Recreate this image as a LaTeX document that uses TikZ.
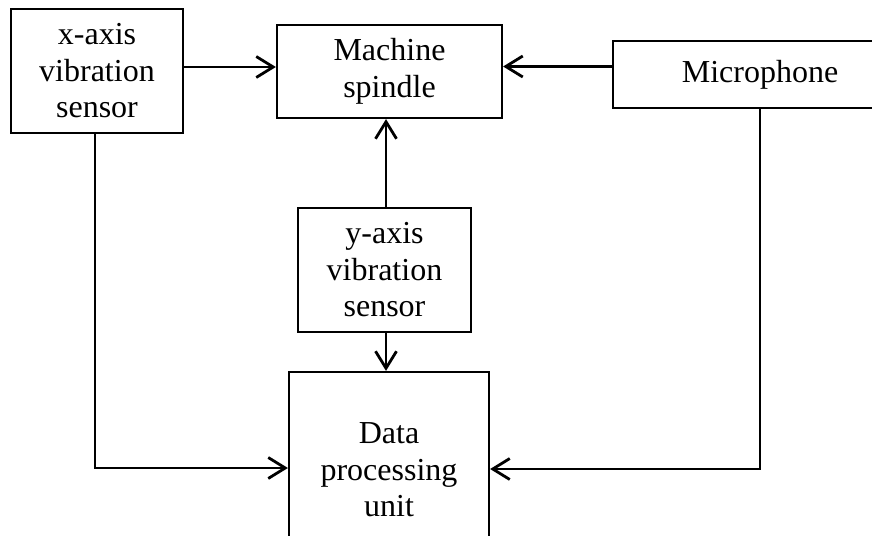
\documentclass[tikz,border=0pt]{standalone}
\usepackage{fontspec}
\setmainfont{Liberation Serif}
\usetikzlibrary{arrows.meta}

\begin{document}
\begin{tikzpicture}[x=1pt,y=-1pt,
		block/.style={draw,line width=2.2pt,align=center,inner sep=0pt,
			font=\fontsize{32}{36.5}\selectfont},
		arr/.style={line width=2.8pt,-{Straight Barb[length=17pt,width=21pt,line width=2.8pt]}}]
		\useasboundingbox (0,0) rectangle (872,535);
		\clip (0,0) rectangle (872,535);

		% sensors and spindle
		\node [block,minimum width=172pt,minimum height=124pt] (xs) at (97,71) {x-axis\\vibration\\sensor};
		\node [block,minimum width=225pt,minimum height=93pt] (spindle) at (389.5,71.5) {Machine\\spindle};
		\node [block,minimum width=294pt,minimum height=67pt] (mic) at (760,74.5) {Microphone};
		\node [block,minimum width=173pt,minimum height=124pt] (ys) at (384.5,270) {y-axis\\vibration\\sensor};
		\node [block,minimum width=200pt,minimum height=196pt] (dp) at (389,470) {Data\\processing\\unit};

		% connections
		\draw [arr] ([yshift=4pt]xs.east) -- ([yshift=4pt]xs.east -| spindle.west);
		\draw [arr] ([yshift=8pt]mic.west) -- ([yshift=8pt]mic.west -| spindle.east);
		\draw [arr] ([xshift=1.5pt]ys.north) -- ([xshift=1.5pt]ys.north |- spindle.south);
		\draw [arr] ([xshift=1.5pt]ys.south) -- ([xshift=1.5pt]ys.south |- dp.north);
		\draw [arr] ([xshift=-2pt]xs.south) |- ([yshift=2pt]dp.west);
		\draw [arr] (mic.south) |- ([yshift=1pt]dp.east);
	\end{tikzpicture}
\end{document}
